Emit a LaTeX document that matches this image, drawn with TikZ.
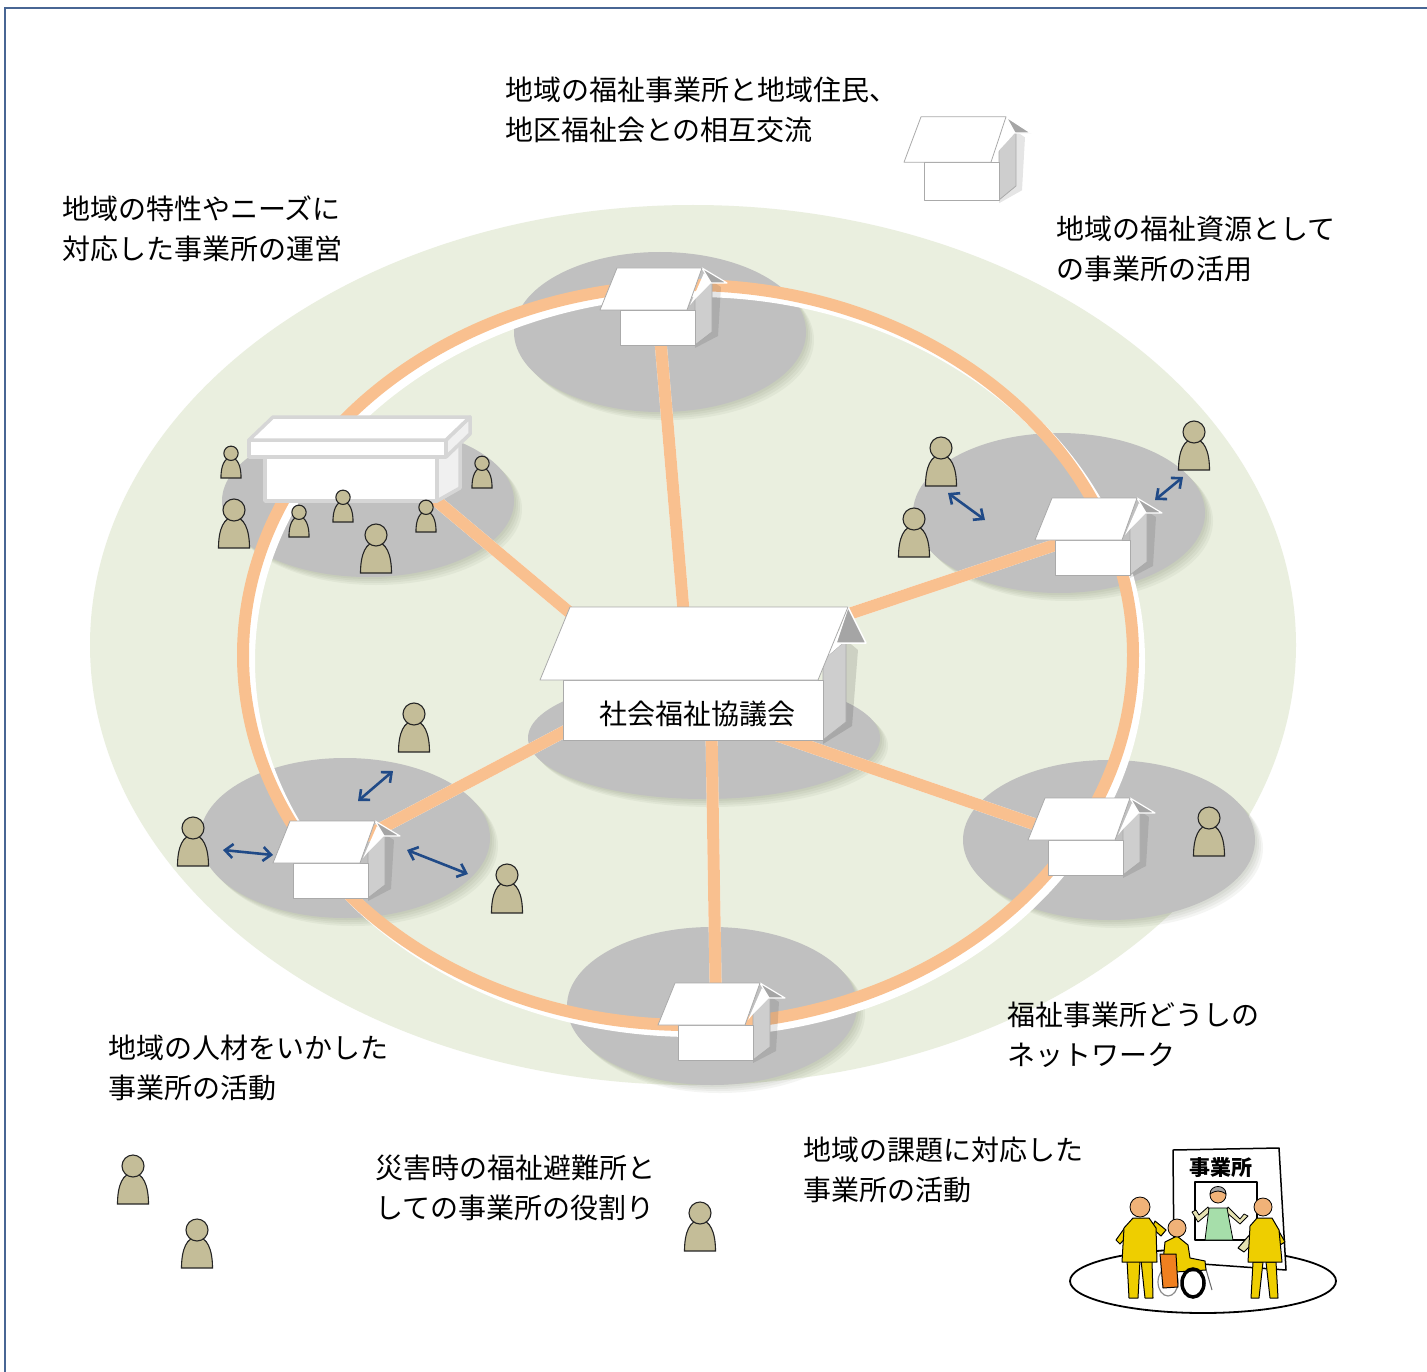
\documentclass[tikz,border=0pt]{standalone}
\usepackage{fontspec}
\setmainfont{Noto Sans CJK JP}
\usetikzlibrary{arrows.meta}

\definecolor{field}{RGB}{234,239,223}
\definecolor{disk}{RGB}{192,192,192}
\definecolor{shadowtone}{RGB}{80,90,60}
\definecolor{band}{RGB}{249,192,143}
\definecolor{khaki}{RGB}{196,189,152}
\definecolor{navy}{RGB}{32,74,135}
\definecolor{framecol}{RGB}{72,102,148}
\definecolor{edgegray}{RGB}{170,170,170}
\definecolor{sidegray}{RGB}{206,206,206}
\definecolor{flapgray}{RGB}{165,165,165}
\definecolor{hallline}{RGB}{214,214,214}
\definecolor{skin}{RGB}{240,178,120}
\definecolor{shirt}{RGB}{238,206,0}
\definecolor{apron}{RGB}{166,222,170}
\definecolor{sleeve}{RGB}{230,226,178}
\definecolor{seat}{RGB}{240,128,32}

% grey ground disk with a soft shadow towards the lower right
\newcommand\zonedisk[4]{%
  \foreach \k in {2,4,6,8}
    \fill[shadowtone,opacity=0.06] (#1+\k,#2+\k) ellipse [x radius=#3pt, y radius=#4pt];
  \fill[disk] (#1,#2) ellipse [x radius=#3pt, y radius=#4pt];
}

\tikzset{
  road/.style={band, line width=12pt},
  roadedge/.style={white, line width=12pt},
  caption/.style={anchor=base west, inner sep=0pt, font=\fontsize{28}{40}\selectfont},
  link/.style={navy, line width=2.6pt, <->, >={Straight Barb[length=8pt,width=14pt]}},
  figure/.style={fill=khaki, draw=black!85, line width=1.1pt},
  hallpart/.style={draw=hallline, line width=3.5pt, line join=round},
  boxpart/.style={draw=edgegray, line width=0.8pt, line join=round},
  ink/.style={draw=black, line width=1pt, line join=round},
  person/.pic={
    \filldraw[figure] (-15.5,0) .. controls (-15.5,-19) and (-10,-31) .. (0,-31)
        .. controls (10,-31) and (15.5,-19) .. (15.5,0) -- cycle;
    \filldraw[figure] (0,-38) circle [radius=11pt];
  },
  box/.pic={
    \fill[black,opacity=0.10] (75,3) -- (98,-9) -- (101,-58) -- (93,-63) -- (76,-40) -- cycle;
    \filldraw[boxpart, fill=sidegray] (75,0) -- (92,-13) -- (92,-63) -- (75,-48) -- cycle;
    \fill[white] (70,-40) -- (84,-72) -- (92,-63) -- (76,-47) -- cycle;
    \filldraw[fill=flapgray, draw=white, line width=1.2pt, line join=round] (82,-77) -- (107,-62) -- (91,-62) -- cycle;
    \filldraw[boxpart, fill=white] (0,0) rectangle (75,-35);
    \filldraw[boxpart, fill=white] (-20,-35) -- (67,-35) -- (82,-77) -- (-3,-77) -- cycle;
  }
}

\begin{document}
\begin{tikzpicture}[x=1pt, y=-1pt]
\useasboundingbox (0,0) rectangle (1427,1372);
\fill[white] (0,0) rectangle (1427,1372);
\draw[framecol, line width=2.5pt] (5,1372) -- (5,8) -- (1427,8);

% the district
\fill[field] (693,645) ellipse [x radius=603pt, y radius=440pt];

% grey ground disks
\zonedisk{704}{738}{176}{61}
\zonedisk{660}{332}{146}{80}
\zonedisk{368}{501}{146}{76}
\zonedisk{1059}{513}{146}{80}
\zonedisk{345}{838}{145}{80}
\zonedisk{1109}{840}{146}{80}
\zonedisk{712}{1006}{145}{79}

% house positions
\coordinate (hTop) at (657,300);
\coordinate (hHall) at (420,487);
\coordinate (hNE) at (1070,540);
\coordinate (hSE) at (1060,833);
\coordinate (hS) at (716,1010);
\coordinate (hSW) at (340,850);
\coordinate (sTop) at (686,640);
\coordinate (sHall) at (575,617);
\coordinate (sNE) at (840,617);
\coordinate (sSE) at (770,733);
\coordinate (sS) at (711,700);
\coordinate (sSW) at (590,718);

% the network ring
\draw[roadedge] (694,661) ellipse [x radius=445pt, y radius=370pt];
\draw[road] (688,655) ellipse [x radius=445pt, y radius=370pt];

% spokes from the council
\begin{scope}[shift={(6,6)}]
  \foreach \a/\b in {sTop/hTop, sHall/hHall, sNE/hNE, sSE/hSE, sS/hS, sSW/hSW}
    \draw[roadedge] (\a) -- (\b);
\end{scope}
\foreach \a/\b in {sTop/hTop, sHall/hHall, sNE/hNE, sSE/hSE, sS/hS, sSW/hSW}
  \draw[road] (\a) -- (\b);

% community hall
\filldraw[hallpart, fill=white] (265,457) rectangle (437,501);
\filldraw[hallpart, fill=black!6] (437,457) -- (460,440) -- (460,488) -- (437,501) -- cycle;
\filldraw[hallpart, fill=white] (249,440) rectangle (446,457);
\filldraw[hallpart, fill=black!6] (446,440) -- (470,417) -- (470,434) -- (446,457) -- cycle;
\filldraw[hallpart, fill=white] (249,440) -- (273,417) -- (470,417) -- (446,440) -- cycle;

% welfare offices
\pic at (620,345) {box};
\pic[yscale=1.08] at (924,200) {box};
\pic at (1055,575) {box};
\pic at (293,898) {box};
\pic at (1048,875) {box};
\pic at (678,1060) {box};

% council office
\fill[black,opacity=0.12] (823,744) -- (852,726) -- (858,650) -- (846,640) -- (826,700) -- cycle;
\filldraw[boxpart, fill=sidegray] (823,740) -- (846,722) -- (846,640) -- (823,660) -- cycle;
\fill[white] (815,685) -- (838,630) -- (846,640) -- (823,660) -- cycle;
\filldraw[fill=flapgray, draw=white, line width=1.5pt, line join=round] (848,607) -- (866,643) -- (836,643) -- cycle;
\filldraw[boxpart, fill=white] (563,680) rectangle (823,740);
\filldraw[boxpart, fill=white] (540,680) -- (818,680) -- (848,607) -- (570,607) -- cycle;
\node[anchor=base, inner sep=0pt, font=\fontsize{28}{40}\selectfont] (council) at (697,724) {社会福祉協議会};

% residents
\foreach \px/\py in {231/478, 299/537, 343/522, 426/532, 482/488}
  \pic[scale=0.65] at (\px,\py) {person};
\foreach \px/\py in {234/548, 376/573, 941/486, 914/557, 1194/470, 414/752,
                     193/866, 507/913, 1209/856, 133/1204, 197/1268, 700/1251}
  \pic at (\px,\py) {person};

% exchanges
\coordinate (x1a) at (948,493);  \coordinate (x1b) at (985,520);
\coordinate (x2a) at (1155,500); \coordinate (x2b) at (1183,477);
\coordinate (x3a) at (358,801);  \coordinate (x3b) at (393,771);
\coordinate (x4a) at (223,850);  \coordinate (x4b) at (273,855);
\coordinate (x5a) at (407,850);  \coordinate (x5b) at (468,874);
\foreach \n in {1,...,5}
  \draw[link] (x\n a) -- (x\n b);

% captions
\node[caption] (t1a) at (505,101) {地域の福祉事業所と地域住民、};
\node[caption] (t1b) at (505,141) {地区福祉会との相互交流};
\node[caption] (t2a) at (62,220) {地域の特性やニーズに};
\node[caption] (t2b) at (62,260) {対応した事業所の運営};
\node[caption] (t3a) at (1056,240) {地域の福祉資源として};
\node[caption] (t3b) at (1056,280) {の事業所の活用};
\node[caption] (t5a) at (1007,1025) {福祉事業所どうしの};
\node[caption] (t5b) at (1007,1065) {ネットワーク};
\node[caption] (t6a) at (108,1058) {地域の人材をいかした};
\node[caption] (t6b) at (108,1098) {事業所の活動};
\node[caption] (t7a) at (375,1178) {災害時の福祉避難所と};
\node[caption] (t7b) at (375,1218) {しての事業所の役割り};
\node[caption] (t8a) at (803,1160) {地域の課題に対応した};
\node[caption] (t8b) at (803,1200) {事業所の活動};

% sketch of an office helping visitors
\draw[line width=1.8pt, fill=white] (1203,1281) ellipse [x radius=133pt, y radius=32pt];
\filldraw[ink, fill=white, line width=1.5pt] (1174,1262) -- (1173,1150) -- (1279,1148) -- (1286,1270) -- cycle;
\node[inner sep=0pt, font=\fontsize{21}{21}\selectfont\bfseries] (sign) at (1221,1168) {事業所};
\filldraw[ink, fill=white, line width=1.3pt] (1195,1182) rectangle (1257,1240);
% clerk in the window
\filldraw[ink, fill=sleeve, line width=0.8pt] (1210,1212) -- (1198,1222) -- (1192,1212) -- (1196,1210) -- (1199,1215) -- (1208,1207) -- cycle;
\filldraw[ink, fill=sleeve, line width=0.8pt] (1226,1212) -- (1240,1224) -- (1248,1216) -- (1244,1214) -- (1240,1219) -- (1228,1207) -- cycle;
\filldraw[ink, fill=apron, line width=0.8pt] (1205,1240) -- (1209,1208) -- (1227,1208) -- (1233,1240) -- cycle;
\filldraw[ink, fill=skin, line width=0.8pt] (1218,1195) circle [radius=8pt];
\filldraw[ink, fill=black!35, line width=0.8pt] (1210,1194) .. controls (1210,1184) and (1226,1184) .. (1226,1194) .. controls (1220,1190) and (1216,1190) .. cycle;
% visitor on the left
\filldraw[ink, fill=shirt] (1126,1226) -- (1116,1240) -- (1120,1244) -- (1129,1234) -- cycle;
\filldraw[ink, fill=shirt] (1152,1228) -- (1161,1236) -- (1166,1230) -- (1155,1221) -- cycle;
\filldraw[ink, fill=shirt] (1127,1260) -- (1129,1298) -- (1138,1298) -- (1140,1260) -- cycle;
\filldraw[ink, fill=shirt] (1141,1260) -- (1145,1298) -- (1153,1298) -- (1152,1260) -- cycle;
\filldraw[ink, fill=shirt] (1122,1262) -- (1124,1228) -- (1133,1218) -- (1149,1218) -- (1156,1228) -- (1157,1262) -- cycle;
\filldraw[ink, fill=skin, line width=0.8pt] (1140,1207) circle [radius=10pt];
% visitor in a wheelchair
\draw[black!45, line width=1.2pt] (1168,1282) ellipse [x radius=10pt, y radius=14pt];
\draw[black!60, line width=1pt] (1180,1264) -- (1205,1266) -- (1212,1290);
\filldraw[ink, fill=shirt] (1163,1262) -- (1165,1242) -- (1177,1236) -- (1188,1245) -- (1190,1258) -- (1205,1261) -- (1206,1270) -- (1175,1272) -- cycle;
\filldraw[ink, fill=seat] (1160,1254) -- (1176,1254) -- (1178,1287) -- (1163,1288) -- cycle;
\draw[black, line width=3.5pt] (1193,1283) ellipse [x radius=11pt, y radius=14pt];
\filldraw[ink, fill=skin, line width=0.8pt] (1177,1228) circle [radius=9pt];
% visitor on the right
\filldraw[ink, fill=sleeve] (1252,1232) -- (1238,1248) -- (1244,1252) -- (1256,1240) -- cycle;
\filldraw[ink, fill=shirt] (1276,1226) -- (1285,1242) -- (1280,1245) -- (1273,1234) -- cycle;
\filldraw[ink, fill=shirt] (1253,1262) -- (1251,1298) -- (1259,1298) -- (1263,1262) -- cycle;
\filldraw[ink, fill=shirt] (1266,1262) -- (1270,1298) -- (1278,1298) -- (1276,1262) -- cycle;
\filldraw[ink, fill=shirt] (1248,1262) -- (1250,1226) -- (1257,1218) -- (1272,1218) -- (1279,1230) -- (1282,1262) -- cycle;
\filldraw[ink, fill=skin, line width=0.8pt] (1263,1207) circle [radius=9pt];
\end{tikzpicture}
\end{document}
